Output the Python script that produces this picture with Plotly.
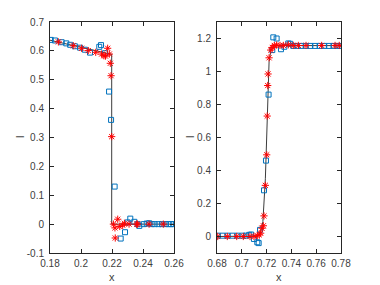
import plotly.graph_objects as go

# ---------------- Left panel data ----------------
ref_left_x = [0.18, 0.2198, 0.2198, 0.26]
ref_left_y = [0.637, 0.588, 0.0, 0.0]

sq_left_x = [0.1805, 0.1832, 0.1875, 0.1905, 0.193, 0.196, 0.1994, 0.2025, 0.2058, 0.2118, 0.2129,
             0.2155, 0.2181, 0.2194, 0.2217, 0.2256, 0.2284, 0.2301, 0.2318, 0.2344, 0.2365,
             0.2376, 0.2405, 0.2424, 0.2440, 0.2456, 0.2475, 0.2500, 0.2522, 0.2545, 0.2565,
             0.2580, 0.2596]
sq_left_y = [0.638, 0.636, 0.630, 0.626, 0.621, 0.616, 0.611, 0.604, 0.594, 0.614, 0.620,
             0.592, 0.459, 0.361, 0.130, -0.050, -0.028, 0.006, 0.019, 0.008, 0.0,
             -0.006, 0.0, 0.002, 0.003, 0.0, 0.0, 0.0, 0.0, 0.0, 0.0,
             0.0, 0.0]

st_left_x = [0.1854, 0.195, 0.2004, 0.2047, 0.2095, 0.2133, 0.2148, 0.2158, 0.2172, 0.2183,
             0.2189, 0.2194, 0.2198, 0.2209, 0.2219, 0.2221, 0.2237, 0.2250, 0.2269, 0.2280,
             0.2310, 0.2359, 0.2365, 0.2439, 0.2531]
st_left_y = [0.631, 0.618, 0.609, 0.601, 0.595, 0.589, 0.583, 0.582, 0.609, 0.589,
             0.557, 0.514, 0.303, 0.0, -0.013, -0.048, 0.017, -0.008, -0.004, 0.003,
             0.0, 0.0, 0.0, 0.0, 0.0]

# ---------------- Right panel data ----------------
ref_right_x = [0.68, 0.712, 0.715, 0.717, 0.719, 0.7205, 0.722, 0.7235, 0.726, 0.73, 0.78]
ref_right_y = [0.0, 0.003, 0.02, 0.09, 0.35, 0.70, 1.06, 1.13, 1.155, 1.157, 1.157]

sq_right_x = [0.6806, 0.6845, 0.6885, 0.6925, 0.6965, 0.7005, 0.7035, 0.706, 0.7075, 0.7098,
              0.7125, 0.7136, 0.7147, 0.7179, 0.7195, 0.7216, 0.7246, 0.7254, 0.7281, 0.7316,
              0.7343, 0.7375, 0.7390, 0.7415, 0.7443, 0.7478, 0.7515, 0.7553, 0.7590, 0.7628,
              0.7665, 0.7702, 0.7740, 0.7770, 0.7795]
sq_right_y = [0.005, 0.005, 0.005, 0.005, 0.005, 0.005, 0.005, 0.01, 0.012, -0.015,
              -0.035, -0.04, 0.04, 0.28, 0.46, 0.86, 1.13, 1.207, 1.20, 1.135,
              1.15, 1.17, 1.168, 1.155, 1.155, 1.155, 1.155, 1.155, 1.155, 1.155,
              1.155, 1.155, 1.155, 1.155, 1.155]

st_right_x = [0.6806, 0.6883, 0.6959, 0.7012, 0.7066, 0.7098, 0.7125, 0.7141, 0.7152, 0.7163,
              0.7174, 0.7179, 0.7190, 0.7201, 0.7205, 0.7209, 0.7212, 0.7220, 0.7233, 0.7246,
              0.7262, 0.7281, 0.7308, 0.7335, 0.7375, 0.7415, 0.7456, 0.7518, 0.7644, 0.7752,
              0.7786]
st_right_y = [0.0, 0.0, 0.0, 0.0, 0.0, 0.0, 0.005, 0.01, 0.02, 0.05,
              0.065, 0.125, 0.31, 0.495, 0.73, 0.915, 0.985, 1.083, 1.13, 1.146,
              1.158, 1.16, 1.158, 1.158, 1.162, 1.158, 1.158, 1.158, 1.158, 1.158,
              1.158]

left_xticks = [0.18, 0.2, 0.22, 0.24, 0.26]
left_yticks = [-0.1, 0, 0.1, 0.2, 0.3, 0.4, 0.5, 0.6, 0.7]
right_xticks = [0.68, 0.7, 0.72, 0.74, 0.76, 0.78]
right_yticks = [0, 0.2, 0.4, 0.6, 0.8, 1, 1.2]

BLUE = "#0072BD"
RED = "#FF0000"
LINE = "rgb(60,60,60)"
AX = "#262626"
TXT = "#404040"
FONT = "Liberation Sans, Arial, sans-serif"

fig = go.Figure()

def add_panel(xa, ya, rx, ry, sx, sy, tx, ty):
    fig.add_trace(go.Scatter(x=rx, y=ry, mode="lines", line=dict(color=LINE, width=1),
                             xaxis=xa, yaxis=ya, showlegend=False, hoverinfo="skip"))
    fig.add_trace(go.Scatter(x=sx, y=sy, mode="markers",
                             marker=dict(symbol="square-open", size=5, color=BLUE, line=dict(width=1, color=BLUE)),
                             xaxis=xa, yaxis=ya, showlegend=False))
    fig.add_trace(go.Scatter(x=tx, y=ty, mode="markers",
                             marker=dict(symbol="asterisk-open", size=6, color=RED, line=dict(width=1, color=RED)),
                             xaxis=xa, yaxis=ya, showlegend=False))

add_panel("x", "y", ref_left_x, ref_left_y, sq_left_x, sq_left_y, st_left_x, st_left_y)
add_panel("x2", "y2", ref_right_x, ref_right_y, sq_right_x, sq_right_y, st_right_x, st_right_y)

ydom = [1 - 253 / 285, 1 - 22 / 285]
common = dict(showline=True, linecolor=AX, linewidth=1, mirror="ticks", ticks="inside",
              ticklen=4, tickcolor=AX, showgrid=False, zeroline=False, automargin=False,
              tickfont=dict(family=FONT, size=10, color=TXT))

def lab(text, x, y, angle=0):
    return dict(text=text, x=x / 380, y=1 - y / 285, xref="paper", yref="paper", showarrow=False,
                xanchor="center", yanchor="middle", textangle=angle,
                font=dict(family=FONT, size=11, color=TXT))

fig.update_layout(
    template="none",
    width=380, height=285,
    margin=dict(l=0, r=0, t=0, b=0, pad=0),
    paper_bgcolor="white", plot_bgcolor="white",
    xaxis=dict(domain=[50 / 380, 174 / 380], range=[0.18, 0.26], tickvals=left_xticks,
               ticktext=[f"{v:g}" for v in left_xticks], anchor="y", ticklabelstandoff=1, **common),
    yaxis=dict(domain=ydom, range=[-0.1, 0.7], tickvals=left_yticks,
               ticktext=[f"{v:g}" for v in left_yticks], anchor="x", ticklabelstandoff=3, **common),
    xaxis2=dict(domain=[217 / 380, 341 / 380], range=[0.68, 0.78], tickvals=right_xticks,
                ticktext=[f"{v:g}" for v in right_xticks], anchor="y2", ticklabelstandoff=1, **common),
    yaxis2=dict(domain=ydom, range=[-0.1, 1.3], tickvals=right_yticks,
                ticktext=[f"{v:g}" for v in right_yticks], anchor="x2", ticklabelstandoff=3, **common),
    annotations=[
        lab("x", 112, 277),
        lab("x", 279, 277),
        lab("l", 20, 137, -90),
        lab("l", 190, 137, -90),
    ],
)

fig.write_html("out.html", config={"displayModeBar": False},
               post_script="document.body.style.margin='0';document.body.style.overflow='hidden';")
